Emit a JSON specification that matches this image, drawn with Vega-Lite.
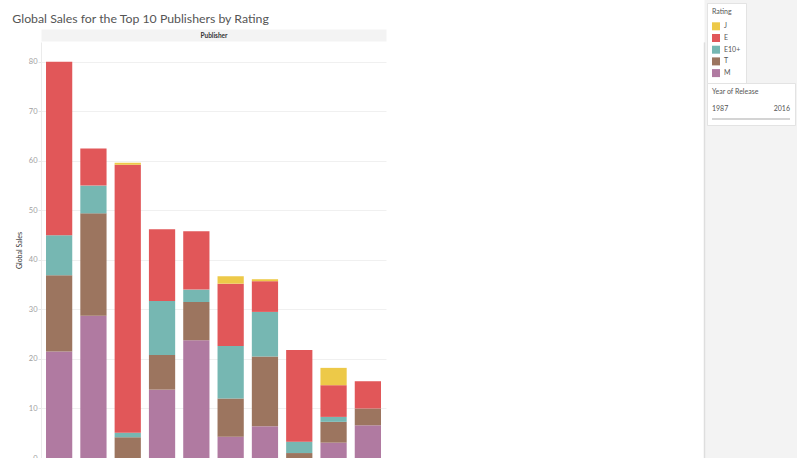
{
  "$schema": "https://vega.github.io/schema/vega-lite/v6.json",
  "autosize": {"type": "pad"},
  "padding": {"left": 12, "top": 2, "right": 0, "bottom": 0},
  "background": "#ffffff",
  "spacing": 315,
  "config": {
    "font": "Lato",
    "view": {"stroke": null},
    "axis": {"labelFont": "Lato", "titleFont": "Lato"},
    "legend": {"labelFont": "Lato", "titleFont": "Lato"}
  },
  "datasets": {
    "sales": [
      {"Publisher": "Electronic Arts", "Rating": "M", "Sales": 21.5},
      {"Publisher": "Electronic Arts", "Rating": "T", "Sales": 15.4},
      {"Publisher": "Electronic Arts", "Rating": "E10+", "Sales": 8.1},
      {"Publisher": "Electronic Arts", "Rating": "E", "Sales": 35.0},
      {"Publisher": "Activision", "Rating": "M", "Sales": 28.7},
      {"Publisher": "Activision", "Rating": "T", "Sales": 20.7},
      {"Publisher": "Activision", "Rating": "E10+", "Sales": 5.6},
      {"Publisher": "Activision", "Rating": "E", "Sales": 7.5},
      {"Publisher": "Nintendo", "Rating": "T", "Sales": 4.2},
      {"Publisher": "Nintendo", "Rating": "E10+", "Sales": 0.9},
      {"Publisher": "Nintendo", "Rating": "E", "Sales": 54.1},
      {"Publisher": "Nintendo", "Rating": "J", "Sales": 0.4},
      {"Publisher": "Ubisoft", "Rating": "M", "Sales": 13.8},
      {"Publisher": "Ubisoft", "Rating": "T", "Sales": 7.0},
      {"Publisher": "Ubisoft", "Rating": "E10+", "Sales": 10.9},
      {"Publisher": "Ubisoft", "Rating": "E", "Sales": 14.5},
      {"Publisher": "Take-Two Interactive", "Rating": "M", "Sales": 23.8},
      {"Publisher": "Take-Two Interactive", "Rating": "T", "Sales": 7.7},
      {"Publisher": "Take-Two Interactive", "Rating": "E10+", "Sales": 2.5},
      {"Publisher": "Take-Two Interactive", "Rating": "E", "Sales": 11.8},
      {"Publisher": "Sony Computer Entertainment", "Rating": "M", "Sales": 4.3},
      {"Publisher": "Sony Computer Entertainment", "Rating": "T", "Sales": 7.7},
      {"Publisher": "Sony Computer Entertainment", "Rating": "E10+", "Sales": 10.6},
      {"Publisher": "Sony Computer Entertainment", "Rating": "E", "Sales": 12.6},
      {"Publisher": "Sony Computer Entertainment", "Rating": "J", "Sales": 1.5},
      {"Publisher": "Namco Bandai Games", "Rating": "M", "Sales": 6.4},
      {"Publisher": "Namco Bandai Games", "Rating": "T", "Sales": 14.1},
      {"Publisher": "Namco Bandai Games", "Rating": "E10+", "Sales": 9.0},
      {"Publisher": "Namco Bandai Games", "Rating": "E", "Sales": 6.2},
      {"Publisher": "Namco Bandai Games", "Rating": "J", "Sales": 0.4},
      {"Publisher": "Microsoft Game Studios", "Rating": "T", "Sales": 1.0},
      {"Publisher": "Microsoft Game Studios", "Rating": "E10+", "Sales": 2.3},
      {"Publisher": "Microsoft Game Studios", "Rating": "E", "Sales": 18.5},
      {"Publisher": "Square Enix", "Rating": "M", "Sales": 3.1},
      {"Publisher": "Square Enix", "Rating": "T", "Sales": 4.2},
      {"Publisher": "Square Enix", "Rating": "E10+", "Sales": 1.0},
      {"Publisher": "Square Enix", "Rating": "E", "Sales": 6.4},
      {"Publisher": "Square Enix", "Rating": "J", "Sales": 3.5},
      {"Publisher": "Warner Bros. Interactive Entertainment", "Rating": "M", "Sales": 6.6},
      {"Publisher": "Warner Bros. Interactive Entertainment", "Rating": "T", "Sales": 3.4},
      {"Publisher": "Warner Bros. Interactive Entertainment", "Rating": "E", "Sales": 5.5}
    ],
    "years": [{"Year": 1987}, {"Year": 2016}]
  },
  "hconcat": [
    {
      "data": {"name": "sales"},
      "transform": [
        {"calculate": "indexof(['M', 'T', 'E10+', 'E', 'J'], datum.Rating)", "as": "RatingOrder"}
      ],
      "title": {
        "text": "Global Sales for the Top 10 Publishers by Rating",
        "anchor": "start", "frame": "bounds", "dx": -3, "offset": -3,
        "baseline": "alphabetic", "fontSize": 12.3, "fontWeight": "normal",
        "color": "#555555", "font": "Lato"
      },
      "width": 345,
      "height": 416,
      "mark": {"type": "bar"},
      "encoding": {
        "x": {
          "field": "Publisher", "type": "nominal",
          "sort": ["Electronic Arts", "Activision", "Nintendo", "Ubisoft", "Take-Two Interactive", "Sony Computer Entertainment", "Namco Bandai Games", "Microsoft Game Studios", "Square Enix", "Warner Bros. Interactive Entertainment"],
          "scale": {"paddingInner": 0.235, "paddingOuter": 0.146},
          "axis": {
            "orient": "top", "title": "Publisher", "labels": false,
            "ticks": false,
            "domain": true, "domainColor": "#f3f3f3", "domainWidth": 12, "offset": 7,
            "titleX": 172.5, "titleY": 0, "titleBaseline": "middle", "titleAlign": "center",
            "titleFontSize": 6.5, "titleFontWeight": "bold", "titleColor": "#333333", "grid": false
          }
        },
        "y": {
          "field": "Sales", "type": "quantitative", "stack": "zero",
          "scale": {"domain": [0, 84], "nice": false},
          "axis": {
            "title": "Global Sales", "values": [0, 10, 20, 30, 40, 50, 60, 70, 80],
            "grid": true, "gridColor": "#f0f0f0", "domainColor": "#ebebeb",
            "tickColor": "#e6e6e6", "tickSize": 3, "labelPadding": 1,
            "labelFontSize": 7.5, "labelColor": "#a0a0a0",
            "titleFontSize": 7, "titleFontWeight": "normal", "titleColor": "#333333", "titlePadding": 6
          }
        },
        "color": {
          "field": "Rating", "type": "nominal",
          "sort": ["J", "E", "E10+", "T", "M"],
          "scale": {"domain": ["J", "E", "E10+", "T", "M"], "range": ["#EDC948", "#E15759", "#76B7B2", "#9C755F", "#B07AA1"]},
          "legend": {
            "orient": "none", "legendX": 666, "legendY": -39,
            "title": "Rating                      ",
            "symbolType": "square", "symbolSize": 64, "symbolStrokeWidth": 0, "symbolOpacity": 1,
            "fillColor": "#ffffff", "strokeColor": "#e3e3e3", "padding": 5,
            "titleFontSize": 7, "titleFontWeight": "normal", "titleColor": "#555555",
            "labelFontSize": 7, "labelColor": "#555555", "rowPadding": 3.7,
            "titlePadding": 7.3, "labelOffset": 4
          }
        },
        "order": {"field": "RatingOrder", "type": "quantitative", "sort": "ascending"}
      }
    },
    {
      "data": {"name": "years"},
      "width": 96,
      "height": 416,
      "view": {"fill": "#f3f3f3", "stroke": null},
      "mark": {"type": "point", "opacity": 0},
      "encoding": {
        "x": {
          "field": "Year", "type": "quantitative",
          "scale": {"domain": [1987, 2016], "nice": false, "zero": false},
          "axis": {
            "orient": "top", "title": null, "labels": false, "ticks": false, "grid": false,
            "domain": true, "domainColor": "#f3f3f3", "domainWidth": 44, "offset": 22
          }
        },
        "y": {
          "field": "Year", "type": "quantitative",
          "scale": {"domain": [1987, 2016], "nice": false, "zero": false},
          "axis": {
            "orient": "left", "title": null, "labels": false, "ticks": false, "grid": false,
            "domain": true, "domainColor": "#dedede", "domainWidth": 1.5
          }
        },
        "stroke": {
          "field": "Year", "type": "quantitative",
          "scale": {"domain": [1987, 2016], "range": ["#d4d4d4", "#d4d4d4"]},
          "legend": {
            "orient": "none", "legendX": 666, "legendY": 41, "title": "Year of Release",
            "direction": "horizontal", "gradientLength": 78, "gradientThickness": 2,
            "gradientStrokeWidth": 0, "values": [1987, 2016], "format": "d",
            "labelOffset": -15, "titlePadding": 23, "padding": 5,
            "fillColor": "#ffffff", "strokeColor": "#e3e3e3",
            "titleFontSize": 7, "titleFontWeight": "normal", "titleColor": "#555555",
            "labelFontSize": 7, "labelColor": "#555555"
          }
        }
      }
    }
  ]
}
